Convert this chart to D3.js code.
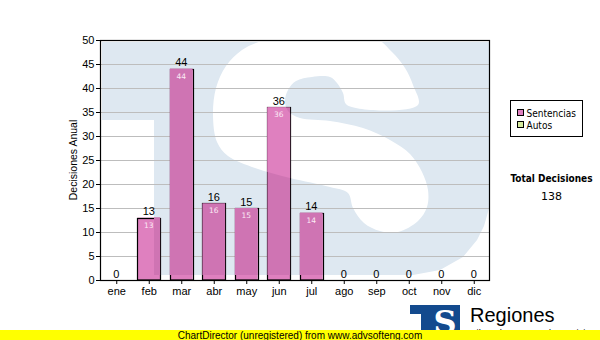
<!DOCTYPE html>
<html><head><meta charset="utf-8">
<script src="https://cdn.jsdelivr.net/npm/d3@7/dist/d3.min.js"></script>
<style>
html,body{margin:0;padding:0;background:#fff;}
svg{display:block;}
</style></head>
<body>
<script>
// ---- data ----
const months = ["ene","feb","mar","abr","may","jun","jul","ago","sep","oct","nov","dic"];
const sentencias = [0,13,44,16,15,36,14,0,0,0,0,0];
const autos = [0,0,0,0,0,0,0,0,0,0,0,0];
const yTicks = [0,5,10,15,20,25,30,35,40,45,50];
const seriesNames = ["Sentencias","Autos"];
const totalLabel = "Total Decisiones";
const yTitle = "Decisiones Anual";

const W = 600, H = 340;
const M = {left:100, right:490, top:40, bottom:280};
const colBlue = "#dee8f1", colPinkW = "#df80bf", colPinkB = "#cf74b3", colGreen = "#d6eb9e";

const svg = d3.select("body").append("svg").attr("width",W).attr("height",H)
  .style("font-family","'Liberation Sans', Arial, sans-serif");
const defs = svg.append("defs");

const x = d3.scaleBand().domain(months).range([M.left,M.right]).paddingInner(0.3).paddingOuter(0.15);
const xc = d3.scalePoint().domain(months).range([M.left,M.right]).padding(0.5);
const y = d3.scaleLinear().domain([0,50]).range([M.bottom,M.top]);

const totals = sentencias.map((v,i)=>v+autos[i]);

// plot clip
defs.append("clipPath").attr("id","plotclip").append("rect")
  .attr("x",M.left).attr("y",M.top).attr("width",M.right-M.left).attr("height",M.bottom-M.top);

// watermark geometry (decorative logo)
const bluePts = [[102,42],[490,42],[490,205],[484,226],[477,240],[463,257],[440,270],[413,275],[154,275],[154,120],[102,120]];
const sPts = [[418,105],[347,105],[343,93],[337,83],[330,77],[312,77],[296,81],[288,90],[285,101],[288,111],[300,118],[330,121],[363,128],[390,140],[410,154],[422,172],[428,190],[427,207],[418,221],[398,232],[380,231],[364,223],[353,208],[348,193],[330,187],[290,178],[255,168],[228,156],[217,142],[213,115],[216,88],[226,66],[242,50],[262,41],[290,37],[373,37],[392,52],[405,68],[413,85],[418,105]];
const lineGen = d3.line();
function drawWatermark(g, blue, white){
  g.append("path").attr("d", lineGen(bluePts)+"Z").attr("fill",blue);
  g.append("path").attr("d", d3.line().curve(d3.curveCatmullRomClosed.alpha(0.5))(sPts.slice(0,-1))).attr("fill",white);
}
const wm = svg.append("g").attr("clip-path","url(#plotclip)");
drawWatermark(wm, colBlue, "#fff");

// gridlines
svg.append("g").selectAll("line").data(yTicks.filter(d=>d>0)).join("line")
  .attr("x1",M.left).attr("x2",M.right).attr("y1",d=>y(d)+0.5).attr("y2",d=>y(d)+0.5)
  .attr("stroke","#bdbdbd").attr("stroke-width",1);

// bars
const barIdx = months.map((m,i)=>i).filter(i=>totals[i]>0);
const bars = svg.append("g");
bars.selectAll("rect").data(barIdx).join("rect")
  .attr("x",i=>x(months[i])).attr("width",x.bandwidth())
  .attr("y",i=>y(sentencias[i])).attr("height",i=>y(0)-y(sentencias[i]))
  .attr("fill",colPinkW);
const cp = defs.append("clipPath").attr("id","barclip");
cp.selectAll("rect").data(barIdx).join("rect")
  .attr("x",i=>x(months[i])).attr("width",x.bandwidth())
  .attr("y",i=>y(sentencias[i])).attr("height",i=>y(0)-y(sentencias[i]));
const wm2 = svg.append("g").attr("clip-path","url(#barclip)");
drawWatermark(wm2, colPinkB, colPinkW);
bars.append("g").selectAll("rect").data(barIdx).join("rect")
  .attr("x",i=>Math.round(x(months[i]))+0.5).attr("width",Math.round(x.bandwidth()))
  .attr("y",i=>Math.round(y(sentencias[i]))+0.5).attr("height",i=>Math.round(y(0)-y(sentencias[i]))-0.5)
  .attr("fill","none").attr("stroke","#000").attr("stroke-width",1.2);

// inside labels
svg.append("g").selectAll("text").data(barIdx).join("text")
  .attr("x",i=>xc(months[i])).attr("y",i=>y(sentencias[i])+10)
  .attr("text-anchor","middle").attr("font-family","'DejaVu Sans', Verdana, sans-serif")
  .attr("font-size","7.5px").attr("fill","#fbeaf5").text(i=>sentencias[i]);

// total labels above
svg.append("g").selectAll("text").data(months).join("text")
  .attr("x",m=>xc(m)).attr("y",(m,i)=>y(totals[i])-2.5)
  .attr("text-anchor","middle").attr("font-size","11px").attr("fill","#000")
  .text((m,i)=>totals[i]);

// frame
svg.append("rect").attr("x",M.left+0.5).attr("y",M.top+0.5)
  .attr("width",M.right-M.left-1).attr("height",M.bottom-M.top)
  .attr("fill","none").attr("stroke","#000").attr("stroke-width",1.2);

// axes
const ya = svg.append("g").attr("transform",`translate(${M.left},0)`)
  .call(d3.axisLeft(y).tickValues(yTicks).tickSize(4).tickPadding(1.5));
const xa = svg.append("g").attr("transform",`translate(0,${M.bottom})`)
  .call(d3.axisBottom(xc).tickSize(4).tickPadding(3));
[ya,xa].forEach(a=>{
  a.select(".domain").remove();
  a.selectAll("line").attr("stroke","#000");
  a.selectAll("text").attr("font-size","11px").attr("fill","#000")
    .attr("font-family","'Liberation Sans', Arial, sans-serif");
});

// y title
svg.append("text").attr("transform","translate(77,160) rotate(-90)")
  .attr("text-anchor","middle").attr("font-size","10.5px").text(yTitle);

// legend
const lg = svg.append("g");
lg.append("rect").attr("x",510.5).attr("y",100.5).attr("width",72).attr("height",36)
  .attr("fill","#fff").attr("stroke","#000");
const legColors = [colPinkW, colGreen];
seriesNames.forEach((n,i)=>{
  lg.append("rect").attr("x",517.5).attr("y",109.5+i*12).attr("width",6).attr("height",6)
    .attr("fill",legColors[i]).attr("stroke","#000");
  lg.append("text").attr("x",526.5).attr("y",117+i*12)
    .attr("font-family","'DejaVu Sans Condensed','DejaVu Sans',sans-serif").attr("font-size","10px")
    .text(n);
});

// total
svg.append("text").attr("x",551.5).attr("y",181.5).attr("text-anchor","middle")
  .attr("font-family","'DejaVu Sans Condensed','DejaVu Sans',sans-serif").attr("font-weight","bold")
  .attr("font-size","10px").text(totalLabel);
svg.append("text").attr("x",551.5).attr("y",200).attr("text-anchor","middle")
  .attr("font-family","'DejaVu Sans', sans-serif").attr("font-size","11px")
  .text(d3.sum(totals));

// bottom logo
const logo = svg.append("g");
logo.append("rect").attr("x",410).attr("y",305).attr("width",50).attr("height",26).attr("fill","#134a8e");
logo.append("rect").attr("x",410).attr("y",314).attr("width",11).attr("height",17).attr("fill","#fff");
logo.append("text").attr("x",445).attr("y",333).attr("text-anchor","middle")
  .attr("font-family","'DejaVu Serif',serif").attr("font-weight","bold").attr("font-size","32px")
  .attr("fill","#fff").text("S");
svg.append("text").attr("x",470).attr("y",322).attr("font-size","20px").text("Regiones");
svg.append("text").attr("x",468).attr("y",335.5).attr("font-size","9.5px").text("Tribunal Supremo de Justicia");

// ChartDirector bar
svg.append("rect").attr("x",0).attr("y",330).attr("width",600).attr("height",10).attr("fill","#ffff00");
svg.append("text").attr("x",300).attr("y",338.5).attr("text-anchor","middle")
  .attr("font-size","10px").attr("fill","#000")
  .text("ChartDirector (unregistered) from www.advsofteng.com");
</script>
</body></html>
